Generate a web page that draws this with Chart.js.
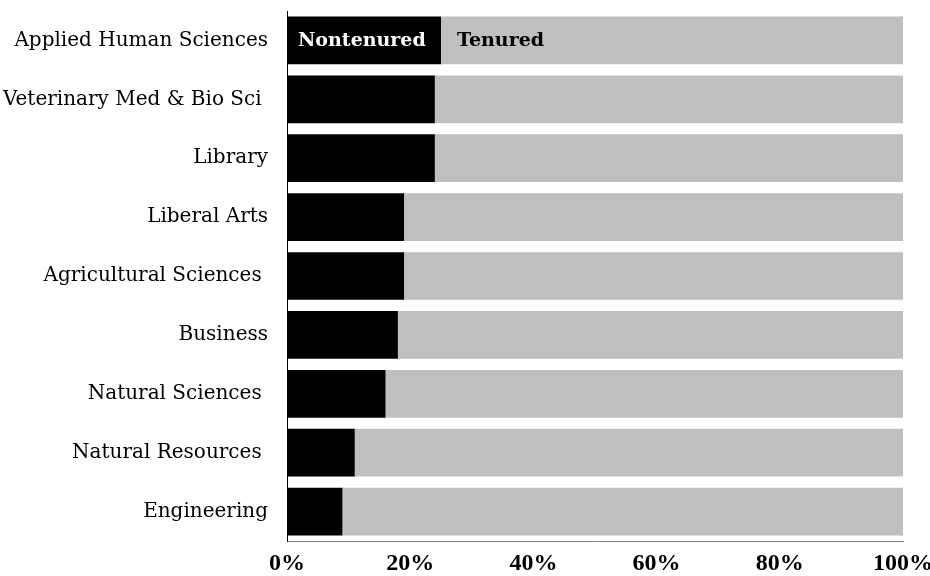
<!DOCTYPE html>
<html>
<head>
<meta charset="utf-8">
<script src="https://cdn.jsdelivr.net/npm/chart.js@4/dist/chart.umd.min.js"></script>
<style>
  html, body { margin: 0; padding: 0; background: #fff; }
  #wrap { width: 930px; height: 576px; }
</style>
</head>
<body>
<div id="wrap"><canvas id="myChart"></canvas></div>
<script>
var kolejler = ["Applied Human Sciences", "Veterinary Med & Bio Sci ", "Library", "Liberal Arts",
  "Agricultural Sciences ", "Business", "Natural Sciences ", "Natural Resources ", "Engineering"];
var nontenured = [25, 24, 24, 19, 19, 18, 16, 11, 9];
var tenured = [75, 76, 76, 81, 81, 82, 84, 89, 91];
var xTicks = [0, 20, 40, 60, 80, 100];

var yaziTipi = "'DejaVu Serif', 'Liberation Serif', serif";
var tikYazi = "'Liberation Serif', 'DejaVu Serif', serif";

// first bar carries the series names
var icEtiket = {
  id: 'icEtiket',
  afterDatasetsDraw: function (chart) {
    var c = chart.ctx;
    c.save();
    c.font = "bold 19px " + yaziTipi;
    c.textBaseline = 'middle';
    var b0 = chart.getDatasetMeta(0).data[0];
    var b1 = chart.getDatasetMeta(1).data[0];
    c.fillStyle = '#fff';
    c.fillText(chart.data.datasets[0].label, b0.base + 11, b0.y + 1);
    c.fillStyle = '#000';
    c.fillText(chart.data.datasets[1].label, b1.base + 16, b1.y + 1);
    c.restore();
  }
};

var ctx = document.getElementById('myChart').getContext('2d');
var myChart = new Chart(ctx, {
  type: 'bar',
  data: {
    labels: kolejler,
    datasets: [{
      label: 'Nontenured',
      data: nontenured,
      backgroundColor: '#000000',
      barPercentage: 0.81,
      categoryPercentage: 1
    }, {
      label: 'Tenured',
      data: tenured,
      backgroundColor: '#bfbfbf',
      barPercentage: 0.81,
      categoryPercentage: 1
    }]
  },
  options: {
    indexAxis: 'y',
    responsive: true,
    maintainAspectRatio: false,
    animation: false,
    layout: { padding: { top: 11, left: 0, right: 0, bottom: 0 } },
    plugins: {
      legend: { display: false },
      tooltip: { enabled: false }
    },
    scales: {
      x: {
        stacked: true,
        min: 0,
        max: 100,
        afterBuildTicks: function (scale) {
          scale.ticks = xTicks.map(function (v) { return { value: v }; });
        },
        afterFit: function (scale) {
          scale.height = 35;
          scale.paddingLeft = 0;
          scale.paddingRight = 27;
        },
        grid: { display: false, drawTicks: false },
        border: { color: '#808080', width: 1 },
        ticks: {
          color: '#000',
          padding: 8,
          maxRotation: 0,
          font: { family: tikYazi, size: 24, weight: 'bold' },
          callback: function (v) { return v + '%'; }
        }
      },
      y: {
        stacked: true,
        grid: { display: false, drawTicks: false },
        border: { color: '#000', width: 1 },
        afterFit: function (scale) {
          scale.width = 287;
          scale.paddingTop = 0;
          scale.paddingBottom = 0;
        },
        ticks: {
          color: '#000',
          padding: 19,
          font: { family: yaziTipi, size: 20 }
        }
      }
    }
  },
  plugins: [icEtiket]
});
</script>
</body>
</html>
